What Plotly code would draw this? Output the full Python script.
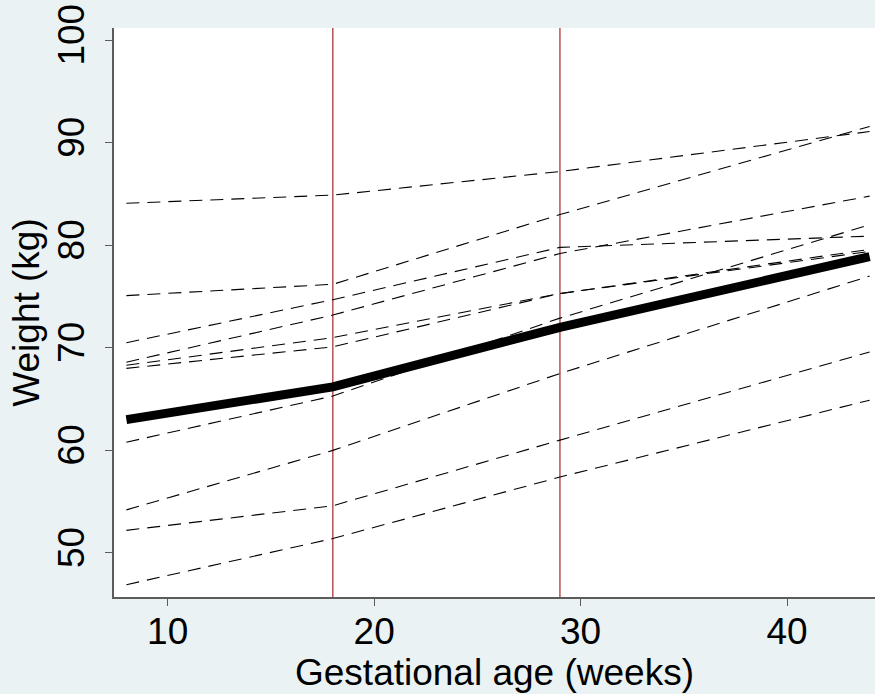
import plotly.graph_objects as go

# Gestational age knots (weeks)
weeks = [8, 18, 29, 44]

# Individual weight trajectories (kg) at the knots
subj_01 = [84.1, 84.9, 87.2, 91.1]
subj_02 = [75.1, 76.2, 83.0, 91.6]
subj_03 = [70.5, 74.7, 79.8, 80.9]
subj_04 = [68.6, 73.2, 79.2, 84.8]
subj_05 = [68.3, 71.0, 75.3, 79.4]
subj_06 = [68.0, 70.1, 75.3, 79.6]
subj_07 = [60.8, 65.3, 72.9, 82.0]
subj_08 = [54.2, 60.0, 67.5, 77.0]
subj_09 = [52.2, 54.6, 61.0, 69.6]
subj_10 = [46.9, 51.4, 57.4, 64.9]

# Mean trajectory (kg)
mean_weight = [63.0, 66.2, 72.0, 78.9]

# Vertical reference lines (weeks)
ref_weeks = [18, 29]

x_ticks = [10, 20, 30, 40]
y_ticks = [50, 60, 70, 80, 90, 100]

subjects = [subj_01, subj_02, subj_03, subj_04, subj_05,
            subj_06, subj_07, subj_08, subj_09, subj_10]

FONT = "Liberation Sans, Arial, Helvetica, sans-serif"
FS = 37

fig = go.Figure()

for xv in ref_weeks:
    fig.add_vline(x=xv, line=dict(color="#a3262a", width=1.2), layer="below")

fig.add_trace(go.Scatter(
    x=weeks, y=mean_weight, mode="lines",
    line=dict(color="black", width=9), showlegend=False, hoverinfo="skip"))

for s in subjects:
    fig.add_trace(go.Scatter(
        x=weeks, y=s, mode="lines",
        line=dict(color="black", width=1.1, dash="13px,8px"),
        showlegend=False, hoverinfo="skip"))

fig.update_layout(
    width=875, height=694,
    paper_bgcolor="#eaf2f3",
    plot_bgcolor="white",
    margin=dict(l=114, r=0, t=28, b=97),
    font=dict(family=FONT, color="black", size=FS),
    showlegend=False,
)

fig.update_xaxes(
    range=[7.4, 44.26], tickvals=x_ticks, ticktext=[str(v) for v in x_ticks],
    showgrid=False, zeroline=False,
    showline=True, linecolor="#5c5c5c", linewidth=2,
    ticks="outside", ticklen=7, tickwidth=1, tickcolor="#5c5c5c",
    ticklabelstandoff=-6,
    tickfont=dict(size=FS, family=FONT, color="black"),
    title=dict(text="Gestational age (weeks)", font=dict(size=FS, family=FONT, color="black"), standoff=0),
    automargin=False,
)

fig.update_yaxes(
    range=[45.7, 101.2], tickvals=y_ticks, ticktext=[str(v) for v in y_ticks],
    showgrid=False, zeroline=False,
    showline=True, linecolor="#5c5c5c", linewidth=2,
    ticks="outside", ticklen=7, tickwidth=1, tickcolor="#5c5c5c",
    ticklabelstandoff=6,
    tickangle=-90,
    tickfont=dict(size=FS, family=FONT, color="black"),
    title=dict(text="Weight (kg)", font=dict(size=FS, family=FONT, color="black"), standoff=0),
    automargin=False,
)

fig.write_html(
    "out.html",
    config={"displayModeBar": False},
    post_script="document.body.style.margin='0';document.body.style.overflow='hidden';",
)
